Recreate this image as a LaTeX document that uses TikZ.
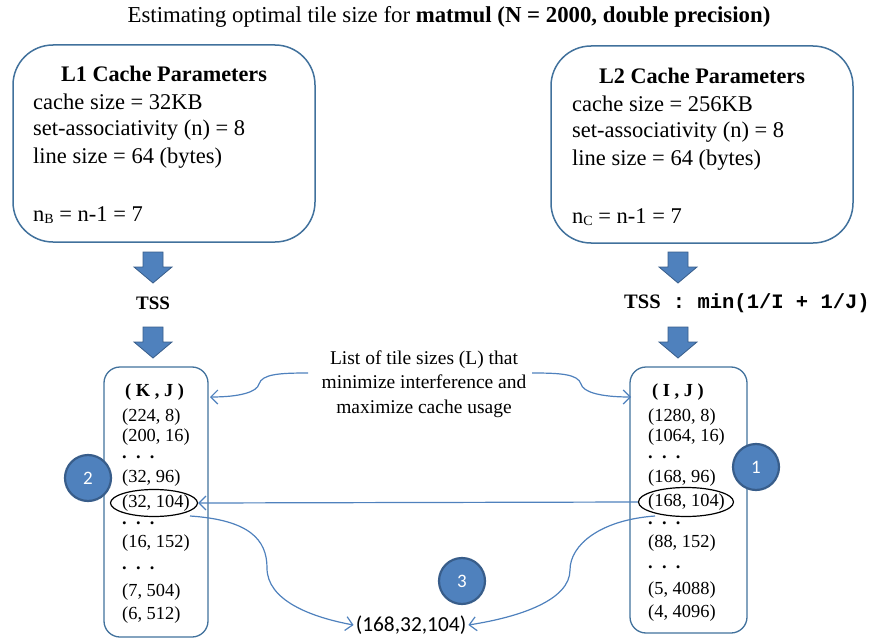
\documentclass[tikz,border=0pt]{standalone}
\usepackage{fontspec}
\setmainfont{Liberation Serif}
\newfontfamily\calibri{Carlito}
\newfontfamily\cmono{Liberation Mono}
\usetikzlibrary{arrows.meta,shapes.geometric}
\definecolor{boxblue}{HTML}{41719C}
\definecolor{lineblue}{HTML}{4F81BD}
\definecolor{fillblue}{HTML}{4F81BD}
\definecolor{darkblue}{HTML}{385D8A}
\newcommand{\fs}[1]{\fontsize{#1}{#1}\selectfont}
\newcommand{\subsc}[1]{\raisebox{-2pt}{\fs{14}#1}}
\begin{document}
\begin{tikzpicture}[x=1pt,y=-1pt,
  cachebox/.style={draw=boxblue, line width=1.5pt, rounded corners=40pt, minimum width=302pt, minimum height=197pt, inner sep=0pt},
  listbox/.style={draw=boxblue, line width=1.3pt, rounded corners=16pt, inner sep=0pt},
  badge/.style={circle, fill=fillblue, draw=darkblue, line width=2.2pt, minimum size=46pt, inner sep=0pt, text=white, font=\calibri\fs{19}},
  conn/.style={draw=lineblue, line width=1.2pt, -{Straight Barb[length=7pt,width=14pt,line width=1.2pt]}},
  pick/.style={ellipse, draw=black, line width=1.2pt, inner sep=0pt},
  boxtitle/.style={font=\bfseries\fs{22.2}, inner sep=0pt},
  boxline/.style={font=\fs{22.5}, anchor=west, inner sep=0pt},
  listline/.style={font=\fs{18.4}, anchor=west, inner sep=0pt},
  listhead/.style={font=\bfseries\fs{18.4}, anchor=west, inner sep=0pt},
  blockarrow/.pic={\filldraw[fill=fillblue, draw=darkblue, line width=0.8pt] (-10,0) -- (10,0) -- (10,15) -- (19,15) -- (0,31) -- (-19,15) -- (-10,15) -- cycle;}
]
\useasboundingbox (0,0) rectangle (871,642);

% title
\node[font=\fs{22.8}, inner sep=0pt] (title) at (449,17) {Estimating optimal tile size for \textbf{matmul (N = 2000, double precision)}};

% L1 cache box
\node[cachebox] (l1) at (164,143.5) {};
\node[boxtitle] (l1t) at (164,74) {L1 Cache Parameters};
\node[boxline] (l1a) at (33,102) {cache size = 32KB};
\node[boxline] (l1b) at (33,130) {set-associativity (n) = 8};
\node[boxline] (l1c) at (33,158) {line size = 64 (bytes)};
\node[boxline] (l1d) at (33,215) {n\subsc{B} = n-1 = 7};

% L2 cache box
\node[cachebox] (l2) at (702,144.5) {};
\node[boxtitle] (l2t) at (702,76) {L2 Cache Parameters};
\node[boxline] (l2a) at (572,104) {cache size = 256KB};
\node[boxline] (l2b) at (572,132) {set-associativity (n) = 8};
\node[boxline] (l2c) at (572,160) {line size = 64 (bytes)};
\node[boxline] (l2d) at (572,217) {n\subsc{C} = n-1 = 7};

% block arrows
\pic at (153,252) {blockarrow};
\pic at (153,327) {blockarrow};
\pic at (678,252) {blockarrow};
\pic at (678,327) {blockarrow};

\node[font=\bfseries\fs{19}, inner sep=0pt] (tssl) at (153,303) {TSS};
\node[font=\fs{20.5}, inner sep=0pt] (tssr) at (747,303) {\textbf{TSS}{\cmono\bfseries{} : min(1/I + 1/J)}};

% list boxes
\node[listbox, minimum width=104pt, minimum height=270pt] (kjbox) at (156,502) {};
\node[listbox, minimum width=117pt, minimum height=266pt] (ijbox) at (688.5,500) {};

\node[listhead] (kj0) at (125,392) {( K , J )};
\node[listline] (kj1) at (122,417) {(224, 8)};
\node[listline] (kj2) at (122,437) {(200, 16)};
\node[listhead] (kj3) at (122,457) {.\ \ .\ \ .};
\node[listline] (kj4) at (122,478) {(32, 96)};
\node[listline] (kj5) at (122,503) {(32, 104)};
\node[listhead] (kj6) at (122,523) {.\ \ .\ \ .};
\node[listline] (kj7) at (122,543) {(16, 152)};
\node[listhead] (kj8) at (122,568) {.\ \ .\ \ .};
\node[listline] (kj9) at (122,592) {(7, 504)};
\node[listline] (kj10) at (122,615) {(6, 512)};

\node[listhead] (ij0) at (652,392) {( I , J )};
\node[listline] (ij1) at (648,417) {(1280, 8)};
\node[listline] (ij2) at (648,437) {(1064, 16)};
\node[listhead] (ij3) at (648,457) {.\ \ .\ \ .};
\node[listline] (ij4) at (648,478) {(168, 96)};
\node[listline] (ij5) at (648,502) {(168, 104)};
\node[listhead] (ij6) at (648,523) {.\ \ .\ \ .};
\node[listline] (ij7) at (648,543) {(88, 152)};
\node[listhead] (ij8) at (648,567) {.\ \ .\ \ .};
\node[listline] (ij9) at (648,590) {(5, 4088)};
\node[listline] (ij10) at (648,613) {(4, 4096)};

% selection ellipses
\node[pick, minimum width=87pt, minimum height=27pt] (lpick) at (154,503) {};
\node[pick, minimum width=95pt, minimum height=29pt] (rpick) at (686,502) {};

% badges
\node[badge] (b2) at (88,478) {2};
\node[badge] (b1) at (756,467) {1};
\node[badge] (b3) at (462,581) {3};

% label
\node[font=\fontsize{19.5}{24.5}\selectfont, align=center, inner sep=0pt] (lbl) at (424,384) {List of tile sizes (L) that\\minimize interference and\\maximize cache usage};

% result
\node[font=\calibri\fs{21.4}, inner sep=0pt] (res) at (411,625) {(168,32,104)};

% connectors
\coordinate (lstart) at (308,373);
\coordinate (lend) at (210,397);
\coordinate (rstart) at (532,373);
\coordinate (rend) at (631,397);
\draw[conn] (lstart) .. controls (280,373) and (262,374) .. (259,384) .. controls (257,392) and (240,397) .. (lend);
\draw[conn] (rstart) .. controls (560,373) and (578,374) .. (581,384) .. controls (583,392) and (600,397) .. (rend);
\draw[conn] (rpick.west) -- (lpick.east);
\coordinate (lfrom) at (190,516);
\coordinate (rfrom) at (655,516);
\draw[conn] (lfrom) .. controls (250,520) and (267,540) .. (267,568) .. controls (267,600) and (310,617) .. ([xshift=-2pt]res.west);
\draw[conn] (rfrom) .. controls (600,520) and (570,545) .. (570,570) .. controls (570,600) and (520,617) .. ([xshift=2pt]res.east);
\end{tikzpicture}
\end{document}
